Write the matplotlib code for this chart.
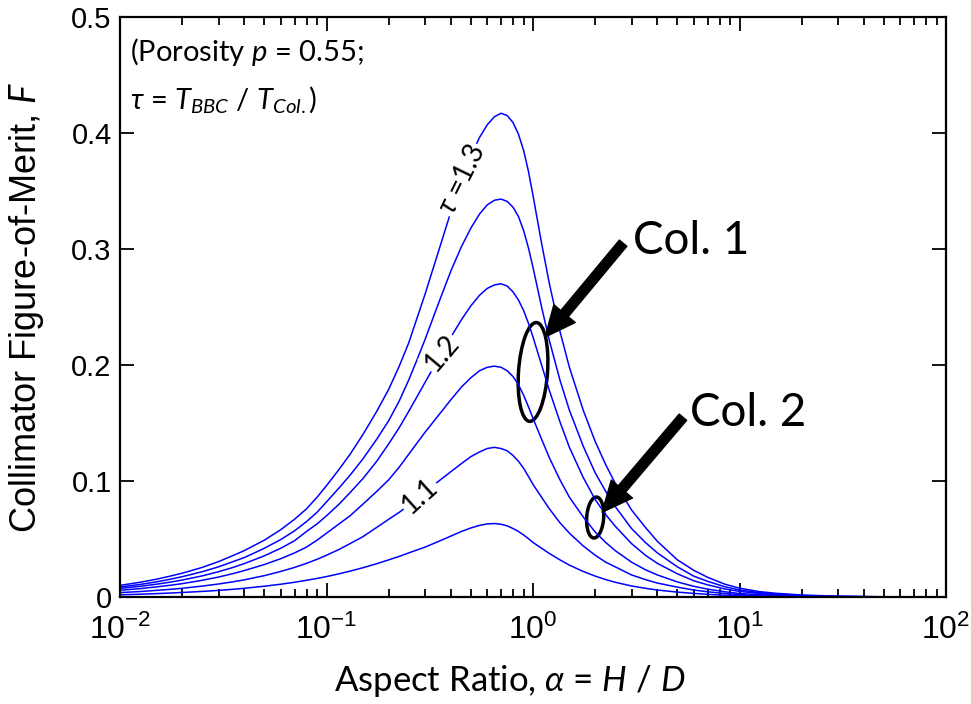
import numpy as np
import matplotlib
matplotlib.use('Agg')
import matplotlib.pyplot as plt
from matplotlib import font_manager
from matplotlib.patches import Ellipse
from matplotlib.transforms import ScaledTranslation


def pick_font(name, fallback):
    try:
        font_manager.findfont(name, fallback_to_default=False)
        return name
    except ValueError:
        return fallback


calib = pick_font('Lato', 'DejaVu Sans')

plt.rcParams['mathtext.fontset'] = 'custom'
plt.rcParams['mathtext.rm'] = calib
plt.rcParams['mathtext.it'] = calib + ':italic'

# aspect ratio alpha = H / D (rows of 10)
alpha = [0.01, 0.0125, 0.015, 0.0175, 0.02, 0.025, 0.03, 0.035, 0.04, 0.05,
         0.06, 0.07, 0.08, 0.09, 0.1, 0.115, 0.13, 0.15, 0.175, 0.2,
         0.225, 0.25, 0.275, 0.3, 0.35, 0.4, 0.45, 0.5, 0.55, 0.6,
         0.65, 0.7, 0.75, 0.8, 0.85, 0.9, 0.95, 1.0, 1.1, 1.2,
         1.35, 1.5, 1.75, 2, 2.25, 2.5, 3, 3.5, 4, 5,
         6, 7, 8.5, 10, 12.5, 15, 20, 30, 50, 100]

# figure of merit F, one list per tau (1.05 ... 1.30)
F_105 = [.0019, .0024, .0029, .0034, .0039, .0048, .0057, .0066, .0075, .0093,
         .011, .0127, .0144, .016, .0176, .020, .0223, .0252, .0287, .032,
         .035, .038, .0406, .043, .048, .0525, .0565, .0595, .0617, .063,
         .0633, .0627, .0613, .059, .0565, .0535, .0503, .047, .042, .0375,
         .032, .0275, .022, .018, .015, .0127, .0095, .0075, .006, .0042,
         .0031, .0023, .0015, .001, .0006, .0004, .0002, .0001, 0, 0]
F_110 = [.0038, .0047, .0057, .0066, .0075, .0094, .0112, .013, .0148, .0184,
         .022, .0255, .029, .0325, .036, .041, .046, .052, .060, .067,
         .073, .079, .085, .090, .100, .108, .115, .121, .125, .128,
         .129, .128, .126, .122, .117, .111, .104, .097, .086, .076,
         .064, .055, .044, .036, .030, .026, .019, .015, .012, .0085,
         .006, .0045, .003, .002, .0012, .0009, .0005, .0002, 0, 0]
F_115 = [.0058, .0072, .0087, .0101, .0115, .0144, .0172, .020, .0228, .028,
         .033, .038, .043, .049, .055, .063, .070, .080, .091, .101,
         .112, .123, .133, .142, .157, .170, .181, .189, .195, .198,
         .199, .198, .195, .190, .183, .174, .164, .154, .136, .120,
         .101, .086, .069, .056, .047, .040, .030, .0235, .019, .013,
         .0092, .0068, .0045, .003, .0019, .0013, .0007, .0003, 0, 0]
F_120 = [.0074, .0092, .011, .0128, .0146, .0182, .0218, .0253, .0288, .0355,
         .042, .0485, .0565, .063, .070, .080, .090, .102, .117, .132,
         .146, .160, .173, .185, .206, .224, .239, .251, .260, .266,
         .269, .270, .268, .263, .256, .247, .236, .224, .200, .178,
         .151, .129, .103, .084, .071, .061, .046, .036, .029, .020,
         .014, .0105, .0069, .0048, .003, .002, .001, .0004, .0001, 0]
F_125 = [.0086, .0108, .013, .0153, .0175, .0218, .026, .0303, .034, .042,
         .0495, .057, .065, .073, .082, .094, .105, .119, .136, .152,
         .169, .187, .205, .222, .254, .281, .302, .318, .330, .338,
         .342, .343, .341, .336, .328, .316, .301, .284, .250, .221,
         .187, .161, .130, .107, .091, .078, .059, .047, .038, .026,
         .018, .0135, .0088, .006, .0037, .0026, .0013, .0005, .0001, 0]
F_130 = [.010, .0127, .0153, .018, .0205, .0255, .0305, .0355, .040, .049,
         .058, .067, .076, .086, .096, .110, .123, .140, .160, .179,
         .199, .219, .241, .261, .299, .332, .359, .380, .396, .407,
         .414, .417, .415, .409, .399, .385, .367, .346, .305, .270,
         .229, .198, .161, .134, .114, .098, .075, .060, .048, .032,
         .023, .017, .011, .0076, .0046, .0032, .0017, .0007, .0002, 0]

curves = [F_105, F_110, F_115, F_120, F_125, F_130]

# inline labels: curve index, alpha position, text, rotation
label_curve = [1, 3, 5]
label_alpha = [0.284, 0.361, 0.452]
label_text = ['1.1', '1.2', r'$\tau$ =1.3']
label_rot = [42, 50, 64]

fig = plt.figure(figsize=(9.71, 7.04), dpi=100)
ax = fig.add_axes([0.1236, 0.152, 0.8507, 0.8239])

for F in curves:
    ax.plot(alpha, F, color='#0000ff', lw=1.1)

for i, a, t, r in zip(label_curve, label_alpha, label_text, label_rot):
    y = np.interp(np.log10(a), np.log10(alpha), curves[i])
    ax.text(a, y, t, rotation=r, rotation_mode='anchor', ha='center', va='center',
            fontsize=20, family=calib,
            bbox=dict(facecolor='white', edgecolor='none', pad=1.0))

ax.set_xscale('log')
ax.set_xlim(1e-2, 1e2)
ax.set_ylim(0, 0.5)
ax.set_xticks([1e-2, 1e-1, 1e0, 1e1, 1e2])
ax.set_xticklabels([r'$\mathregular{10^{-2}}$', r'$\mathregular{10^{-1}}$', r'$\mathregular{10^{0}}$',
                    r'$\mathregular{10^{1}}$', r'$\mathregular{10^{2}}$'],
                   family='Liberation Sans', fontsize=23)
ax.set_yticks([0, 0.1, 0.2, 0.3, 0.4, 0.5])
ax.set_yticklabels(['0', '0.1', '0.2', '0.3', '0.4', '0.5'], family='Liberation Sans', fontsize=21)
ax.tick_params(which='both', direction='in', top=True, right=True, width=1.3)
ax.tick_params(which='major', length=10, pad=6)
ax.tick_params(axis='x', which='major', pad=13)
ax.tick_params(which='minor', length=6)
for s in ax.spines.values():
    s.set_linewidth(1.6)

ax.set_xlabel(r'Aspect Ratio, $\alpha$ = $\mathit{H}$ / $\mathit{D}$', family=calib, fontsize=25)
ax.xaxis.set_label_coords(0.472, -0.113)
ax.set_ylabel(r'Collimator Figure-of-Merit, $\mathit{F}$', family='Liberation Sans', fontsize=26)
ax.yaxis.set_label_coords(-0.09, 0.5)

ax.text(0.012, 0.94, r'(Porosity $\mathit{p}$ = 0.55;', transform=ax.transAxes,
        family=calib, fontsize=21, va='center')
ax.text(0.012, 0.857, r'$\tau$ = $T_{BBC}$ / $T_{Col.}$)', transform=ax.transAxes,
        family=calib, fontsize=21, va='center')

# ellipses marking the two collimators
for (xc, yc), w, h in [((1.0, 0.194), 0.29, 0.99), ((2.0, 0.0685), 0.17, 0.41)]:
    tr = fig.dpi_scale_trans + ScaledTranslation(xc, yc, ax.transData)
    ax.add_patch(Ellipse((0, 0), w, h, angle=-4, transform=tr, fill=False,
                         edgecolor='black', lw=2.5, clip_on=False))

arrow = dict(arrowstyle='simple,head_width=1.0,head_length=1.1,tail_width=0.35',
             mutation_scale=20, color='black', shrinkA=0, shrinkB=0)
ax.annotate('', xy=(1.143, 0.224), xytext=(2.73, 0.305), arrowprops=arrow)
ax.annotate('', xy=(2.16, 0.073), xytext=(5.32, 0.155), arrowprops=arrow)
ax.text(3.05, 0.307, 'Col. 1', family=calib, fontsize=33, va='center', ha='left')
ax.text(5.75, 0.159, 'Col. 2', family=calib, fontsize=33, va='center', ha='left')

fig.savefig('out.png', dpi=100)
